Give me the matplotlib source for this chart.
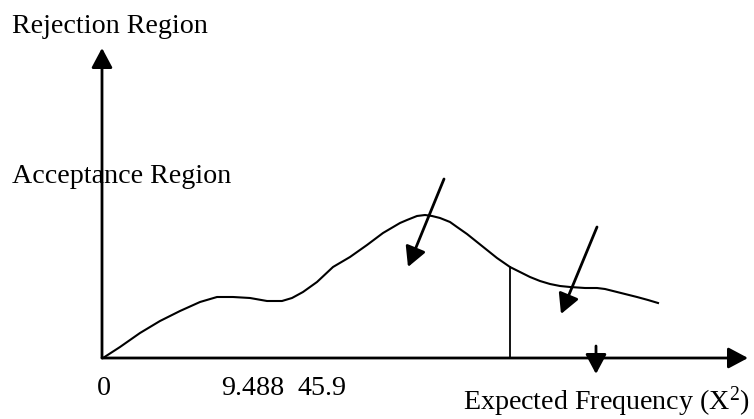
import numpy as np
import matplotlib
matplotlib.use("Agg")
import matplotlib.pyplot as plt

plt.rcParams['font.family'] = ['Liberation Serif', 'DejaVu Serif']
plt.rcParams['mathtext.fontset'] = 'custom'
plt.rcParams['mathtext.rm'] = 'Liberation Serif'
plt.rcParams['mathtext.it'] = 'Liberation Serif'

# hand drawn sketch, coordinates in picture units (x right, y down)
curve_x = [103, 120, 140, 160, 180, 200, 217, 233, 250, 267, 282, 292, 303, 317,
           333, 350, 367, 383, 400, 407, 417, 425, 432, 440, 450, 457, 467, 477,
           487, 497, 510, 520, 530, 540, 550, 560, 570, 585, 597, 605, 613, 625,
           637, 648, 658]
curve_y = [358, 347, 333, 321, 311, 302, 297, 297, 298, 301, 301, 298, 292, 282,
           267, 257, 245, 233, 223, 220, 216, 215, 216, 218, 222, 227, 234, 242,
           250, 258, 267, 272, 277, 281, 284, 286, 287, 288, 288, 289, 291, 294,
           297, 300, 303]

cutoff_x = 510
cutoff_top = 267

origin = (102, 358)
y_axis_tip = (102, 48)
x_axis_tip = (748, 358)

# (start, tip) of the pointer arrows
pointers = [((444, 179), (408, 267)),
            ((597, 227), (561, 314)),
            ((596, 346), (596, 374))]

tick_labels = ["0", "9.488", "45.9"]
tick_pos = [97, 221, 298]

fig = plt.figure(figsize=(7.54, 4.19), dpi=100)
ax = fig.add_axes([0, 0, 1, 1])
ax.set_xlim(0, 754)
ax.set_ylim(419, 0)
ax.axis('off')

head = '-|>,head_length=0.6,head_width=0.32'

# axes with arrow heads
for tip in [y_axis_tip, x_axis_tip]:
    ax.annotate('', xy=tip, xytext=origin,
                arrowprops=dict(arrowstyle=head, mutation_scale=20, lw=2.0,
                                color='black', shrinkA=0, shrinkB=0))

ax.plot(curve_x, curve_y, color='black', lw=1.5, solid_joinstyle='round')
ax.plot([cutoff_x, cutoff_x], [cutoff_top, origin[1]], color='black', lw=1.3)

for start, tip in pointers:
    ax.annotate('', xy=tip, xytext=start,
                arrowprops=dict(arrowstyle=head, mutation_scale=20, lw=2.0,
                                color='black', shrinkA=0, shrinkB=0))

fs = 20.2
ax.text(12, 33, "Rejection Region", fontsize=fs, va='baseline', ha='left')
ax.text(12, 183, "Acceptance Region", fontsize=fs, va='baseline', ha='left')
for lab, x in zip(tick_labels, tick_pos):
    ax.text(x, 395, lab, fontsize=fs, va='baseline', ha='left')
ax.text(750, 410, r"Expected Frequency (X$^{\mathrm{2}}$)", fontsize=fs,
        va='baseline', ha='right')

fig.savefig("out.png", dpi=100)
